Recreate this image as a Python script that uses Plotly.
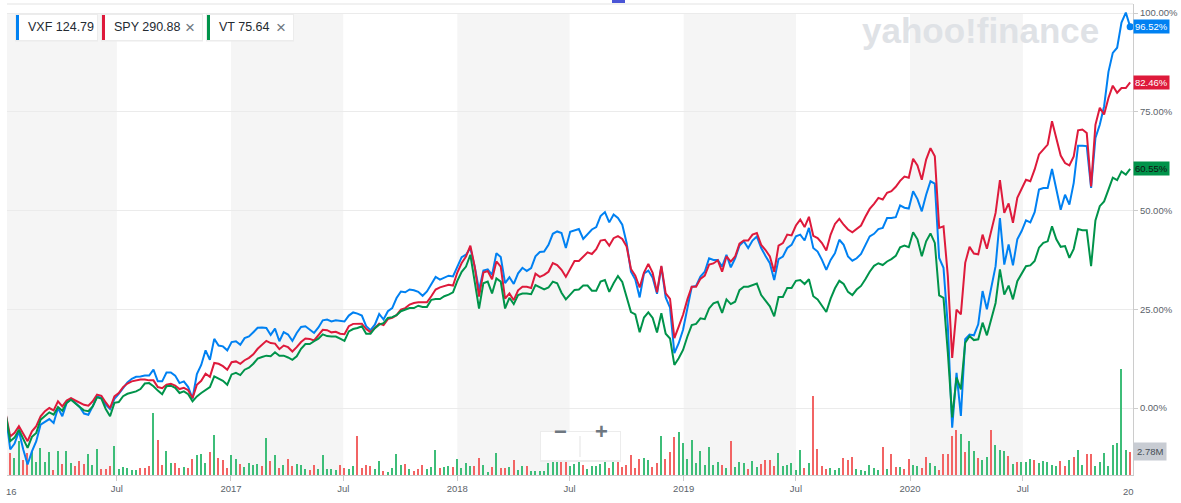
import pandas as pd
import plotly.graph_objects as go

# weekly points, first week starting 2016-01-04
week_start = "2016-01-04"

# % change
vxf = [
    -1.85, -10.5, -9.0, -5.9, -10.5, -14.3, -11.0, -8.4, -4.2, -3.6,
    -2.8, -3.8, 0.0, -2.1, 1.3, 2.3, 1.3, 0.25, -1.4, -1.7,
    0.4, 2.95, 2.6, 0.85, -0.25, 2.3, 3.6, 5.1, 6.5, 7.4,
    7.9, 8.0, 8.2, 8.2, 9.7, 6.75, 6.75, 9.0, 9.0, 8.2,
    6.3, 6.75, 5.3, 2.4, 8.6, 10.9, 14.6, 12.2, 17.5, 15.8,
    15.6, 14.6, 16.7, 16.9, 16.0, 17.7, 18.1, 19.2, 20.3, 20.4,
    20.25, 18.5, 20.1, 16.9, 19.2, 18.6, 17.0, 19.0, 20.5, 20.7,
    19.75, 19.0, 20.4, 22.2, 22.4, 21.9, 22.2, 22.0, 21.9, 23.4,
    24.2, 23.9, 23.4, 20.7, 19.7, 21.1, 23.8, 22.4, 24.5, 25.3,
    27.85, 29.5, 29.3, 30.0, 29.8, 29.4, 28.4, 29.5, 31.5, 33.2,
    32.5, 32.9, 33.5, 33.3, 36.0, 38.2, 38.8, 40.5, 35.8, 29.9,
    34.8, 35.1, 33.7, 39.2, 38.2, 31.6, 33.1, 31.4, 34.1, 35.5,
    34.7, 35.4, 38.4, 39.5, 39.6, 41.3, 44.1, 44.7, 44.3, 40.5,
    44.6, 45.0, 45.3, 42.8, 44.1, 45.2, 45.8, 48.6, 49.6, 47.0,
    49.0, 48.1, 46.4, 41.8, 34.5, 32.5, 28.0, 34.1, 34.8, 33.0,
    28.9, 35.8, 28.0, 25.4, 13.9, 16.4, 19.8, 25.7, 30.7, 30.9,
    33.3, 34.5, 37.9, 37.5, 37.5, 35.8, 38.8, 35.6, 37.9, 41.1,
    42.2, 40.5, 42.4, 43.4, 40.5, 38.5, 36.65, 32.4, 37.7, 38.35,
    40.5, 41.3, 43.45, 43.9, 42.4, 45.6, 40.5, 39.6, 37.5, 34.95,
    37.5, 39.2, 42.6, 41.3, 38.35, 37.3, 37.9, 39.0, 41.3, 43.45,
    44.1, 45.3, 45.6, 48.1, 48.1, 48.3, 51.3, 50.7, 50.5, 54.9,
    52.9, 49.8, 54.0, 57.4, 56.8, 38.0, 35.5, 20.7, -5.0, 8.9,
    -2.0, 17.4, 18.6, 18.4, 21.2, 29.6, 25.0, 30.8, 35.9, 48.1,
    36.3, 41.4, 36.1, 42.7, 44.8, 47.5, 47.0, 49.6, 55.3, 55.7,
    55.7, 60.5, 55.3, 50.2, 54.0, 51.5, 57.0, 66.4, 66.4, 66.3,
    55.7, 68.4, 71.7, 76.4, 85.1, 89.9, 91.2, 97.6, 100.1, 96.52,
]

spy = [
    -1.7, -7.2, -6.3, -4.6, -6.5, -8.4, -5.9, -4.6, -2.1, -0.8,
    0.0, -0.6, 1.7, 0.4, 1.9, 2.5, 1.9, 1.3, 0.8, 0.6,
    1.7, 3.4, 3.1, 1.4, 0.0, 2.95, 3.8, 5.3, 6.2, 6.75,
    7.0, 7.2, 7.2, 7.0, 7.0, 5.3, 5.0, 5.9, 6.1, 5.65,
    4.8, 5.1, 4.5, 2.5, 5.9, 6.9, 8.7, 7.9, 11.4, 11.2,
    10.6, 9.7, 11.6, 11.8, 11.2, 12.1, 12.7, 13.6, 15.0, 16.0,
    17.0, 16.45, 16.3, 14.9, 15.8, 15.4, 14.3, 15.4, 16.7, 17.6,
    17.5, 17.1, 18.6, 19.8, 19.7, 19.15, 19.3, 18.8, 18.7, 20.7,
    21.3, 21.35, 21.35, 20.0, 19.2, 20.25, 21.35, 21.0, 22.5, 22.8,
    23.5, 24.9, 25.3, 26.2, 26.6, 26.75, 26.75, 26.75, 28.3, 30.0,
    30.55, 30.8, 31.2, 31.0, 34.3, 36.7, 38.35, 41.1, 35.8, 28.2,
    34.3, 34.7, 32.6, 37.1, 35.8, 27.7, 29.0, 27.3, 29.8, 30.7,
    30.7, 30.4, 34.0, 33.2, 33.7, 34.5, 36.7, 36.2, 35.0, 33.2,
    35.4, 37.2, 37.2, 38.2, 39.4, 39.0, 40.2, 42.4, 42.6, 41.1,
    43.0, 43.5, 42.8, 40.9, 35.2, 33.5, 30.5, 34.3, 36.5, 34.2,
    29.3, 36.0, 29.0, 27.6, 17.7, 20.6, 23.6, 27.5, 30.7, 30.7,
    32.7, 33.5, 36.3, 36.6, 37.4, 34.5, 38.35, 37.07, 38.35, 41.6,
    42.4, 42.4, 43.9, 44.3, 41.3, 40.0, 38.35, 34.5, 41.1, 41.75,
    43.9, 43.7, 46.2, 47.7, 45.8, 48.4, 43.6, 43.0, 41.75, 39.9,
    43.9, 46.6, 47.9, 46.4, 45.2, 44.5, 45.3, 46.2, 48.4, 50.4,
    51.7, 53.2, 52.8, 54.5, 54.9, 56.0, 57.5, 58.6, 58.3, 63.1,
    61.4, 57.8, 62.9, 65.8, 63.7, 45.6, 46.0, 33.4, 12.7, 24.9,
    23.7, 36.75, 40.8, 39.1, 38.9, 43.9, 40.3, 45.2, 49.4, 57.7,
    49.4, 51.8, 46.9, 53.2, 55.7, 57.8, 57.4, 60.4, 64.2, 65.4,
    66.7, 72.6, 68.0, 63.9, 62.0, 61.4, 63.7, 70.3, 70.5, 69.6,
    56.1, 71.7, 76.0, 74.3, 78.5, 81.6, 79.8, 81.0, 81.0, 82.46,
]

vt = [
    -1.9, -8.4, -7.5, -5.5, -7.8, -10.1, -7.3, -6.3, -2.95, -2.1,
    -1.1, -1.7, 0.25, -0.7, 1.3, 2.1, 1.1, 0.25, -0.6, -0.8,
    0.4, 2.7, 2.4, -0.25, -2.1, 1.3, 1.5, 3.0, 3.6, 3.95,
    4.2, 4.8, 6.2, 6.3, 5.5, 4.4, 3.5, 5.5, 5.65, 5.1,
    3.8, 4.2, 3.5, 1.7, 2.95, 3.8, 4.6, 5.3, 8.0, 7.5,
    6.9, 5.9, 8.5, 8.9, 8.35, 9.7, 10.2, 11.2, 12.5, 12.9,
    13.25, 13.1, 14.1, 13.25, 13.25, 12.8, 12.2, 13.1, 15.0, 16.2,
    16.2, 16.9, 17.55, 18.65, 18.2, 18.1, 18.1, 17.55, 17.0, 19.4,
    20.0, 20.25, 20.7, 18.8, 18.8, 20.2, 21.1, 21.5, 22.8, 23.0,
    23.5, 24.5, 24.9, 25.3, 25.3, 25.9, 25.6, 25.6, 27.4, 27.6,
    27.6, 28.3, 28.7, 29.3, 32.2, 34.5, 35.8, 38.8, 32.0, 25.2,
    31.6, 32.0, 29.0, 32.8, 32.0, 25.2, 27.9, 26.3, 28.6, 29.0,
    29.0, 28.8, 31.1, 30.5, 30.0, 30.5, 32.0, 31.6, 29.2, 27.5,
    28.8, 29.9, 30.0, 31.0, 31.0, 29.7, 29.7, 32.0, 32.4, 29.4,
    31.6, 33.4, 31.9, 28.1, 24.3, 23.7, 19.2, 22.9, 24.2, 22.8,
    19.1, 24.0, 18.8, 17.6, 10.9, 12.6, 14.7, 18.1, 21.0, 21.3,
    22.7, 22.5, 25.2, 26.5, 26.9, 24.06, 27.5, 26.3, 26.9, 29.85,
    30.7, 30.7, 31.1, 31.5, 28.6, 27.1, 25.75, 23.2, 28.1, 28.1,
    30.4, 30.4, 32.2, 32.4, 31.4, 32.6, 28.3, 27.5, 26.0, 24.3,
    27.7, 30.3, 32.2, 31.4, 29.4, 28.6, 30.0, 30.9, 32.6, 34.5,
    36.0, 36.65, 36.2, 37.1, 37.7, 38.5, 40.7, 41.1, 40.7, 44.5,
    42.7, 38.4, 42.2, 44.2, 41.8, 28.5, 27.9, 14.0, -2.4, 7.7,
    4.7, 16.5, 18.2, 17.2, 17.4, 21.6, 18.4, 22.8, 26.6, 35.1,
    28.7, 31.0, 27.5, 32.1, 34.2, 35.9, 36.1, 37.2, 40.6, 41.8,
    42.2, 46.0, 42.7, 40.8, 41.0, 38.0, 40.3, 45.3, 45.0, 45.0,
    35.9, 47.5, 51.1, 52.3, 55.3, 58.3, 57.7, 59.9, 59.1, 60.55,
]

# VXF weekly volume, millions
volume = [
    2.3, 2.6, 2.0, 4.1, 1.8, 2.6, 2.9, 1.6, 3.2, 1.6,
    2.8, 0.6, 2.9, 1.3, 2.9, 1.4, 1.1, 1.7, 1.3, 2.5,
    1.2, 3.1, 0.7, 0.7, 1.1, 3.5, 0.7, 1.0, 0.8, 0.6,
    0.6, 0.8, 0.8, 1.1, 7.4, 4.2, 1.2, 2.9, 1.4, 1.4,
    0.8, 1.0, 0.8, 1.9, 2.4, 2.5, 1.4, 2.8, 4.8, 2.0,
    1.8, 0.8, 2.4, 1.9, 1.3, 1.0, 1.4, 1.2, 1.3, 1.1,
    4.4, 1.7, 2.4, 0.8, 1.2, 1.9, 1.1, 1.3, 1.2, 0.7,
    0.6, 1.2, 0.7, 2.4, 0.7, 0.7, 0.6, 1.2, 0.8, 0.7,
    1.1, 4.7, 0.8, 1.2, 1.1, 0.7, 1.7, 0.5, 0.4, 0.8,
    2.5,
    1.2, 1.3, 0.7, 0.5, 0.7, 1.2, 0.7, 1.0, 3.0, 0.8,
    1.0, 1.1, 1.0, 1.9, 0.8, 1.4, 1.1, 1.1, 2.0, 1.2,
    0.4, 1.0, 2.6, 0.8, 0.8, 1.0, 1.8, 0.6, 1.1, 1.1,
    0.5, 0.5, 0.5, 0.5, 1.4, 2.4, 2.0, 1.8, 2.4, 1.1,
    1.3, 1.7, 1.2, 0.7, 1.1, 1.1, 1.3, 1.8, 0.8, 2.8,
    1.7, 1.0, 1.2, 2.4, 0.8, 1.9, 2.0, 1.8, 1.0, 1.4,
    4.7, 1.9, 2.8, 4.6, 5.2, 3.8, 1.9, 4.2, 1.4, 2.9,
    1.2, 3.4, 1.2, 1.6, 1.2, 0.8, 4.1, 1.0, 1.6, 1.4,
    0.7, 1.7, 1.0, 1.3, 1.8, 1.8, 1.1, 2.6, 1.1, 1.2,
    1.4, 0.6, 3.0,
    0.8, 1.4, 9.5, 3.1, 1.1, 0.7, 0.8, 0.6, 0.8, 2.0,
    1.8, 2.2, 0.7, 0.6, 0.5, 1.2, 0.8, 0.6, 3.4, 0.7,
    2.5, 1.0, 1.0, 0.7, 1.9, 1.2, 1.1, 0.8, 2.2, 1.4,
    1.1, 0.6, 2.5, 2.5, 4.7, 5.4, 4.9, 2.8, 4.1, 2.9,
    2.0, 1.8, 2.2, 5.4, 3.6, 3.0, 2.9, 2.3, 1.3, 1.6,
    1.6, 1.6, 1.9, 1.8, 1.4, 1.7, 1.6, 1.2, 1.1, 1.7,
    1.1, 1.8, 2.2, 3.0, 1.2, 2.5, 2.5, 1.1, 1.6, 2.6,
    1.1, 3.6, 3.8, 12.7, 3.0, 2.78,
]

# G = up week, R = down week
vol_dir = (
    "RRGGRRGGGG" "GRGRGGRRRG" "GGRRRGGGGG" "GRRRGRRGGR" "RGRRGGGRGR"
    "RRGGRGGGGR" "GRGRGRRGGG" "RRGGGGGRRG" "GRRRRGGRGG" "G"
    "GRGRRRGGGR" "GGRGGGGRRG" "GRGRRGRGGR" "GGGGGGGRRG" "GGRGGGGGRG"
    "RRRRRRGGRR" "GRRRGGGGGG" "GGGGRGRGGG" "RGGRRRRGGG" "GGG"
    "RGRRRRGGGR" "RRGGGGGGRG" "RRGRRGGRRG" "GRRRRRGRGG" "RGGRGGGRGR"
    "GGGRGGGGGR" "RGRGGRRGGG" "GGGGGR"
)

tick_dates = ["2016-07-01", "2017-01-01", "2017-07-01", "2018-01-01", "2018-07-01",
              "2019-01-01", "2019-07-01", "2020-01-01", "2020-07-01"]
tick_labels = ["Jul", "2017", "Jul", "2018", "Jul", "2019", "Jul", "2020", "Jul"]
pct_ticks = [0, 25, 50, 75, 100]
pct_labels = ["0.00%", "25.00%", "50.00%", "75.00%", "100.00%"]
shade_years = [2016, 2017, 2018, 2019, 2020]

legend_items = [("VXF", "124.79", False), ("SPY", "290.88", True), ("VT", "75.64", True)]

BLUE = "#0081f2"
RED = "#de1a3b"
GREEN = "#00934a"
VOL_UP = "#3dbd78"
VOL_DN = "#f26464"
FONT = "Liberation Sans"
TXT = "#5b636a"

dates = pd.date_range(week_start, periods=len(vxf), freq="7D")

W, H = 1181, 503
L, R, T, B = 7, 48, 4, 28
pw, ph = W - L - R, H - T - B
x_start, x_end = "2016-01-05 19:00", "2020-12-25 14:00"


def px(x):
    return (x - L) / pw


def py(y):
    return (H - B - y) / ph


fig = go.Figure()

fig.add_trace(go.Bar(
    x=dates, y=volume, width=2.0e8,
    marker=dict(color=[VOL_UP if c == "G" else VOL_DN for c in vol_dir], line=dict(width=0)),
    hoverinfo="skip",
))

for vals, col in [(vxf, BLUE), (spy, RED), (vt, GREEN)]:
    fig.add_trace(go.Scatter(x=dates, y=vals, mode="lines", yaxis="y2",
                             line=dict(color=col, width=2), hoverinfo="skip"))

fig.add_trace(go.Scatter(x=[dates[-1]], y=[vxf[-1]], mode="markers", yaxis="y2",
                         marker=dict(color=BLUE, size=7), hoverinfo="skip"))

shapes = []
for yr in shade_years:
    x0 = x_start if yr == 2016 else f"{yr}-01-01"
    shapes.append(dict(type="rect", xref="x", yref="paper", x0=x0, x1=f"{yr}-07-01",
                       y0=0, y1=py(13), fillcolor="#f5f5f5", line=dict(width=0), layer="below"))
shapes.append(dict(type="line", xref="paper", yref="paper", x0=0, x1=1, y0=1, y1=1,
                   line=dict(color="#e3e3e3", width=1)))
# little marker at top centre
shapes.append(dict(type="rect", xref="paper", yref="paper", x0=px(612), x1=px(625),
                   y0=py(3), y1=py(0), fillcolor="#4a55d6", line=dict(width=0)))

annotations = []

# legend chips
chip_x = [(16, 97), (102, 202), (207, 293)]
chip_cols = [BLUE, RED, GREEN]
for (sym, val, closable), (a, b), col in zip(legend_items, chip_x, chip_cols):
    shapes.append(dict(type="rect", xref="paper", yref="paper", x0=px(a - 1), x1=px(b + 1),
                       y0=py(41.5), y1=py(14), fillcolor="#ececec", line=dict(width=0)))
    shapes.append(dict(type="rect", xref="paper", yref="paper", x0=px(a), x1=px(b),
                       y0=py(40), y1=py(15), fillcolor="white", line=dict(width=0)))
    shapes.append(dict(type="rect", xref="paper", yref="paper", x0=px(a), x1=px(a + 3),
                       y0=py(40), y1=py(15), fillcolor=col, line=dict(width=0)))
    annotations.append(dict(xref="paper", yref="paper", x=px(a + 10), y=py(27.5),
                            xanchor="left", yanchor="middle", showarrow=False,
                            text=f"{sym} {val}", font=dict(family=FONT, size=12.5, color="#232a31")))
    if closable:
        annotations.append(dict(xref="paper", yref="paper", x=px(b - 12), y=py(27.5),
                                xanchor="center", yanchor="middle", showarrow=False,
                                text="\u00d7", font=dict(family=FONT, size=17, color="#6e7780")))

# last-value tags on the right
for vals, col, tc in [(vxf, BLUE, "white"), (spy, RED, "white"), (vt, GREEN, "#111111")]:
    annotations.append(dict(xref="paper", yref="y2", x=1, y=vals[-1], xanchor="left",
                            yanchor="middle", showarrow=False, text=f"{vals[-1]:.2f}%",
                            bgcolor=col, borderpad=1,
                            font=dict(family=FONT, size=9.5, color=tc)))
annotations.append(dict(xref="paper", yref="y", x=1, y=volume[-1], xanchor="left",
                        yanchor="middle", showarrow=False, text=f"{volume[-1]:.2f}M",
                        bgcolor="#c8ccd3", borderpad=3,
                        font=dict(family=FONT, size=9.5, color="#464e56")))

# clipped edge year labels
annotations.append(dict(xref="paper", yref="paper", x=px(11.5), y=py(491), xanchor="center",
                        yanchor="middle", showarrow=False, text="16",
                        font=dict(family=FONT, size=9.5, color=TXT)))
annotations.append(dict(xref="paper", yref="paper", x=px(1128), y=py(491), xanchor="center",
                        yanchor="middle", showarrow=False, text="20",
                        font=dict(family=FONT, size=9.5, color=TXT)))

# watermark
annotations.append(dict(xref="paper", yref="paper", x=px(980), y=py(31), xanchor="center",
                        yanchor="middle", showarrow=False, text="<b>yahoo!finance</b>",
                        font=dict(family=FONT, size=35, color="#dfe2e6")))

# zoom buttons
shapes.append(dict(type="rect", xref="paper", yref="paper", x0=px(540), x1=px(621),
                   y0=py(462), y1=py(431), fillcolor="#ececec", line=dict(width=0)))
shapes.append(dict(type="rect", xref="paper", yref="paper", x0=px(541), x1=px(620),
                   y0=py(460), y1=py(432), fillcolor="white", line=dict(width=0)))
shapes.append(dict(type="line", xref="paper", yref="paper", x0=px(580), x1=px(580),
                   y0=py(457), y1=py(436), line=dict(color="#e3e3e3", width=1)))
annotations.append(dict(xref="paper", yref="paper", x=px(560.5), y=py(446), showarrow=False,
                        text="<b>\u2212</b>", font=dict(family=FONT, size=22, color="#6e7780")))
annotations.append(dict(xref="paper", yref="paper", x=px(601), y=py(446), showarrow=False,
                        text="<b>+</b>", font=dict(family=FONT, size=22, color="#6e7780")))

fig.update_layout(
    width=W, height=H,
    margin=dict(l=L, r=R, t=T, b=B),
    paper_bgcolor="white", plot_bgcolor="white",
    showlegend=False,
    bargap=0,
    xaxis=dict(type="date", range=[x_start, x_end], tickvals=tick_dates, ticktext=tick_labels,
               ticks="outside", ticklen=5, tickcolor="#cccccc", showline=True, linecolor="#cccccc",
               showgrid=False, zeroline=False,
               tickfont=dict(family=FONT, size=9.5, color=TXT)),
    yaxis=dict(range=[0, 56.5], visible=False, fixedrange=True),
    yaxis2=dict(overlaying="y", side="right", range=[-16.96, 102.28], tickvals=pct_ticks,
                ticktext=pct_labels, showgrid=True, gridcolor="#ebebeb", zeroline=False,
                showline=True, linecolor="#cccccc", ticks="outside", ticklen=4, tickcolor="#cccccc",
                tickfont=dict(family=FONT, size=9.5, color=TXT)),
    shapes=shapes,
    annotations=annotations,
)

fig.write_html("out.html", config={"displayModeBar": False},
               post_script="document.body.style.margin='0';")
